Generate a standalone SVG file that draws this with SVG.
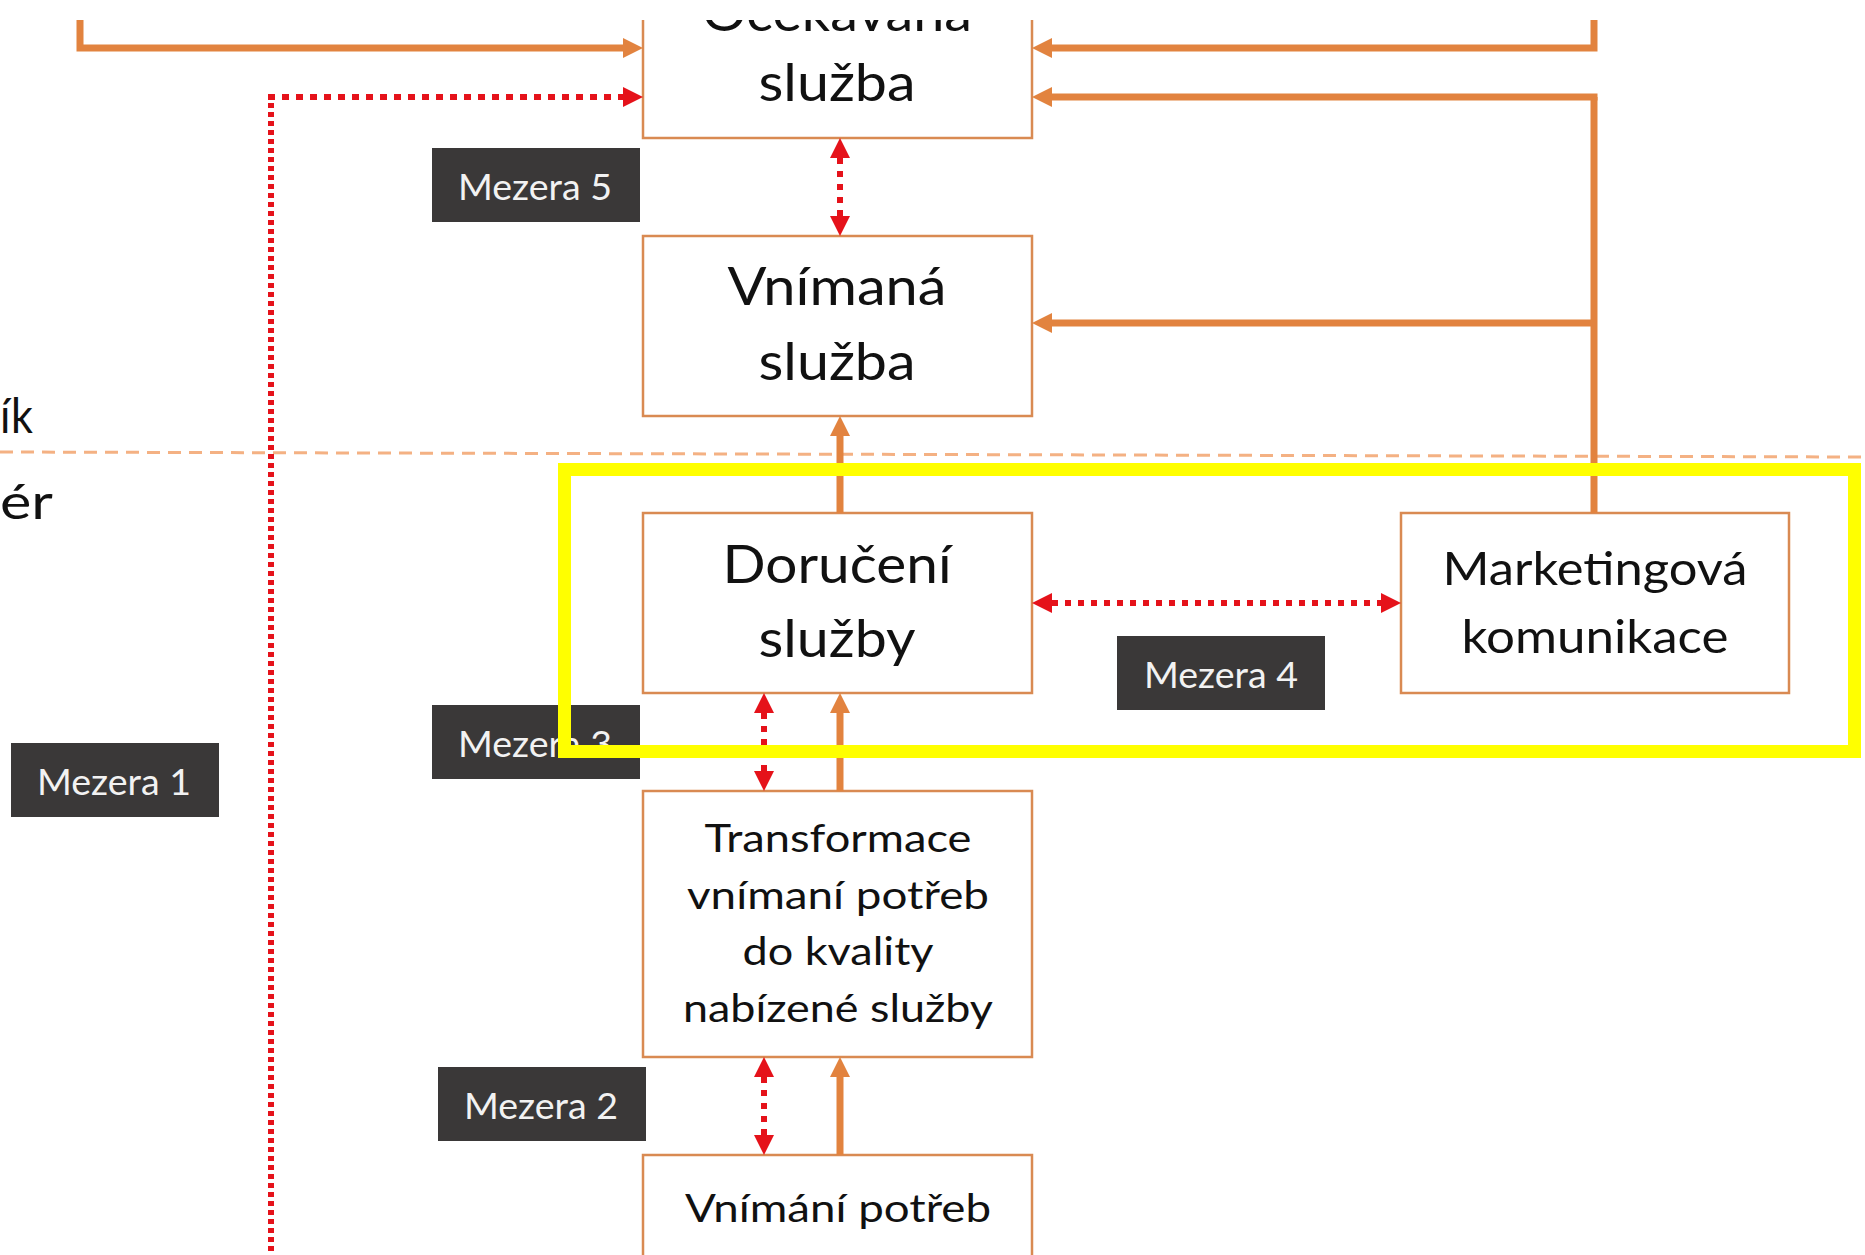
<svg xmlns="http://www.w3.org/2000/svg" width="1865" height="1255" viewBox="0 0 1865 1255">
  <defs>
    <style>
      .box { fill: #ffffff; stroke: #D98A52; stroke-width: 2.5; }
      .txt { font-family: "Lato", "Open Sans", "Liberation Sans", sans-serif; fill: #111111; text-anchor: middle; }
      .big { font-size: 53px; }
      .mid { font-size: 46px; }
      .small { font-size: 39px; }
      .side { font-family: "Lato", "Open Sans", "Liberation Sans", sans-serif; fill: #111111; font-size: 48px; }
      .flow { fill: none; stroke: #E2833F; stroke-width: 7; marker-end: url(#orangeHead); }
      .plain { fill: none; stroke: #E2833F; stroke-width: 7; }
      .gap { fill: none; stroke: #E5121A; stroke-width: 6; }
      .gap2 { fill: none; stroke: #E5121A; stroke-width: 6; stroke-dasharray: 6 7; marker-start: url(#redHead); marker-end: url(#redHead); }
      .tag rect { fill: #3A3838; }
      .tag text { font-family: "Lato", "Open Sans", "Liberation Sans", sans-serif; font-size: 36px; fill: #F2F2F2; text-anchor: middle; }
    </style>
    <marker id="orangeHead" viewBox="0 0 20 20" refX="0" refY="10" markerWidth="20" markerHeight="20" markerUnits="userSpaceOnUse" orient="auto">
      <path d="M0,0 L20,10 L0,20 Z" fill="#E2833F"/>
    </marker>
    <marker id="redHead" viewBox="0 0 20 20" refX="0" refY="10" markerWidth="20" markerHeight="20" markerUnits="userSpaceOnUse" orient="auto-start-reverse">
      <path d="M0,0 L20,10 L0,20 Z" fill="#E5121A"/>
    </marker>
    <clipPath id="frame">
      <rect x="0" y="20" width="1865" height="1235"/>
    </clipPath>
  </defs>

  <rect x="0" y="0" width="1865" height="1255" fill="#ffffff"/>

  <g clip-path="url(#frame)">
    <!-- boundary between customer and provider -->
    <g id="boundary">
      <line x1="0" y1="452" x2="1865" y2="457" stroke="#F4B183" stroke-width="3" stroke-dasharray="13 8"/>
      <text class="side" x="0" y="433" textLength="33" lengthAdjust="spacingAndGlyphs">ík</text>
      <text class="side" x="0" y="519" textLength="53" lengthAdjust="spacingAndGlyphs">ér</text>
    </g>

    <!-- nodes -->
    <g id="node-expected">
      <rect class="box" x="643" y="-60" width="389" height="198"/>
      <text class="txt big" x="837" y="31" textLength="270" lengthAdjust="spacingAndGlyphs">Očekávaná</text>
      <text class="txt big" x="837" y="101" textLength="157" lengthAdjust="spacingAndGlyphs">služba</text>
    </g>
    <g id="node-perceived">
      <rect class="box" x="643" y="236" width="389" height="180"/>
      <text class="txt big" x="837" y="305" textLength="219" lengthAdjust="spacingAndGlyphs">Vnímaná</text>
      <text class="txt big" x="837" y="380" textLength="157" lengthAdjust="spacingAndGlyphs">služba</text>
    </g>
    <g id="node-delivery">
      <rect class="box" x="643" y="513" width="389" height="180"/>
      <text class="txt big" x="837" y="583" textLength="229" lengthAdjust="spacingAndGlyphs">Doručení</text>
      <text class="txt big" x="837" y="657" textLength="157" lengthAdjust="spacingAndGlyphs">služby</text>
    </g>
    <g id="node-marketing">
      <rect class="box" x="1401" y="513" width="388" height="180"/>
      <text class="txt mid" x="1595" y="585" textLength="305" lengthAdjust="spacingAndGlyphs">Marketingová</text>
      <text class="txt mid" x="1595" y="653" textLength="267" lengthAdjust="spacingAndGlyphs">komunikace</text>
    </g>
    <g id="node-transformation">
      <rect class="box" x="643" y="791" width="389" height="266"/>
      <text class="txt small" x="838" y="852" textLength="267" lengthAdjust="spacingAndGlyphs">Transformace</text>
      <text class="txt small" x="838" y="909" textLength="302" lengthAdjust="spacingAndGlyphs">vnímaní potřeb</text>
      <text class="txt small" x="838" y="965" textLength="191" lengthAdjust="spacingAndGlyphs">do kvality</text>
      <text class="txt small" x="838" y="1022" textLength="310" lengthAdjust="spacingAndGlyphs">nabízené služby</text>
    </g>
    <g id="node-needs">
      <rect class="box" x="643" y="1155" width="389" height="140"/>
      <text class="txt small" x="838" y="1222" textLength="306" lengthAdjust="spacingAndGlyphs">Vnímání potřeb</text>
    </g>

    <!-- connectors -->
    <g id="connectors">
      <path class="flow" d="M80,10 V48 H623"/>
      <path class="flow" d="M1594,10 V48 H1052"/>
      <path class="plain" d="M1594,513 V97"/>
      <path class="flow" d="M1597.5,97 H1052"/>
      <path class="flow" d="M1594,323 H1052"/>
      <path class="flow" d="M840,513 V436"/>
      <path class="flow" d="M840,791 V713"/>
      <path class="flow" d="M840,1155 V1077"/>

      <path class="gap" d="M271,1260 V100" stroke-dasharray="5 4"/>
      <path class="gap" d="M268,97 H625" stroke-dasharray="7 7"/>
      <path d="M623,87 L643,97 L623,107 Z" fill="#E5121A"/>
      <path class="gap2" d="M840,158 V216"/>
      <path class="gap2" d="M1052,603 H1381" stroke-dasharray="7 7"/>
      <path class="gap2" d="M764,713 V771"/>
      <path class="gap2" d="M764,1077 V1135"/>
    </g>

    <!-- gap labels -->
    <g id="gap-5" class="tag">
      <rect x="432" y="148" width="208" height="74"/>
      <text x="535" y="200" textLength="154" lengthAdjust="spacingAndGlyphs">Mezera 5</text>
    </g>
    <g id="gap-4" class="tag">
      <rect x="1117" y="636" width="208" height="74"/>
      <text x="1221" y="688" textLength="154" lengthAdjust="spacingAndGlyphs">Mezera 4</text>
    </g>
    <g id="gap-3" class="tag">
      <rect x="432" y="705" width="208" height="74"/>
      <text x="535" y="757" textLength="154" lengthAdjust="spacingAndGlyphs">Mezera 3</text>
    </g>
    <g id="gap-1" class="tag">
      <rect x="11" y="743" width="208" height="74"/>
      <text x="114" y="795" textLength="154" lengthAdjust="spacingAndGlyphs">Mezera 1</text>
    </g>
    <g id="gap-2" class="tag">
      <rect x="438" y="1067" width="208" height="74"/>
      <text x="541" y="1119" textLength="154" lengthAdjust="spacingAndGlyphs">Mezera 2</text>
    </g>

    <!-- highlight frame -->
    <g id="highlight">
      <rect x="564.5" y="469.5" width="1290" height="282" fill="none" stroke="#FFFF00" stroke-width="13"/>
    </g>
  </g>
</svg>
